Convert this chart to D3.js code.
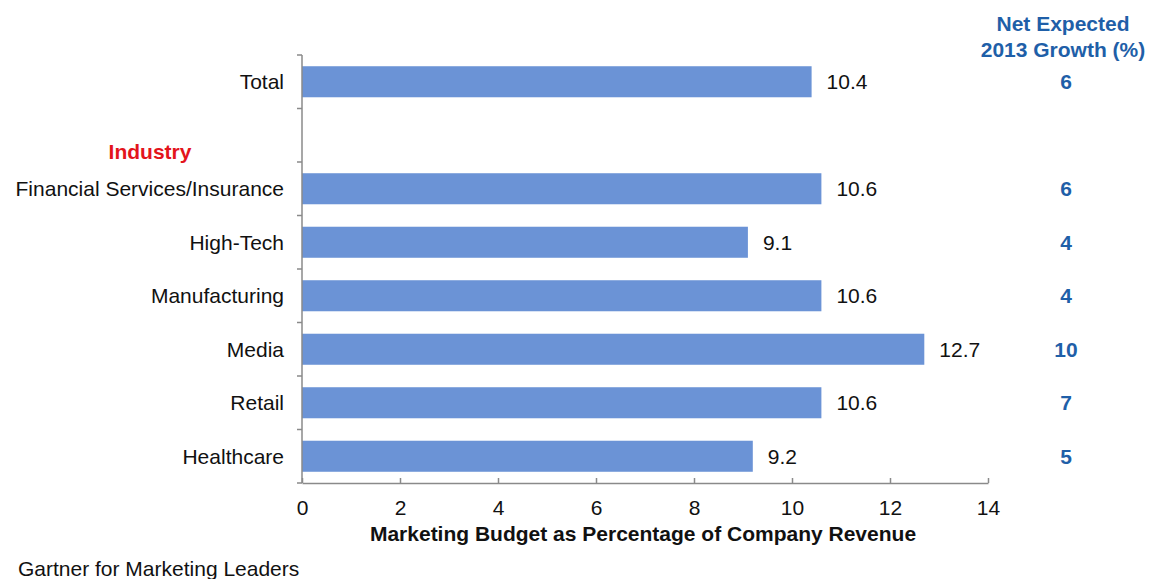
<!DOCTYPE html>
<meta charset="utf-8">
<style>
  body { margin: 0; background: #fff; }
  text { font-family: "Liberation Sans", Arial, sans-serif; }
</style>
<svg width="1155" height="579"></svg>
<script src="https://cdn.jsdelivr.net/npm/d3@7"></script>
<script>
  // data
  var categories = ["Total", "", "Financial Services/Insurance", "High-Tech", "Manufacturing", "Media", "Retail", "Healthcare"];
  var budget = [10.4, null, 10.6, 9.1, 10.6, 12.7, 10.6, 9.2];
  var growth = [6, null, 6, 4, 4, 10, 7, 5];
  var xTicks = [0, 2, 4, 6, 8, 10, 12, 14];

  var rows = categories.map(function(c, i) {
    return {key: "r" + i, name: c, value: budget[i], growth: growth[i]};
  });

  var svg = d3.select("svg"),
      margin = {top: 55, left: 302, right: 167, bottom: 96},
      width = +svg.attr("width") - margin.left - margin.right,
      height = +svg.attr("height") - margin.top - margin.bottom,
      g = svg.append("g").attr("transform", "translate(" + margin.left + "," + margin.top + ")");

  var x = d3.scaleLinear().domain([0, 14]).range([0, width]);
  var y = d3.scaleBand().domain(rows.map(function(d) { return d.key; }))
      .range([0, height]).paddingInner(0.42).paddingOuter(0.21);

  var axisColor = "#8a8a8a";
  var fs = "21px";

  // bars
  g.selectAll(".bar").data(rows.filter(function(d) { return d.value != null; }))
    .enter().append("rect")
    .attr("x", 0)
    .attr("y", function(d) { return y(d.key); })
    .attr("width", function(d) { return x(d.value); })
    .attr("height", y.bandwidth())
    .style("fill", "#6b93d6");

  // value labels
  g.selectAll(".val").data(rows.filter(function(d) { return d.value != null; }))
    .enter().append("text")
    .attr("x", function(d) { return x(d.value) + 15; })
    .attr("y", function(d) { return y(d.key) + y.bandwidth() / 2; })
    .attr("dy", "0.35em")
    .style("font-size", fs)
    .style("fill", "#111")
    .text(function(d) { return d.value.toFixed(1); });

  // y axis: line with ticks at band boundaries
  var step = y.step();
  g.append("line").attr("x1", 0).attr("x2", 0).attr("y1", 0).attr("y2", height)
    .style("stroke", axisColor).style("stroke-width", 1.5);
  g.selectAll(".ytick").data(d3.range(rows.length + 1))
    .enter().append("line")
    .attr("x1", -5).attr("x2", 0)
    .attr("y1", function(i) { return i * step; })
    .attr("y2", function(i) { return i * step; })
    .style("stroke", axisColor).style("stroke-width", 1.5);

  // category labels
  g.selectAll(".cat").data(rows.filter(function(d) { return d.name; }))
    .enter().append("text")
    .attr("x", -18)
    .attr("y", function(d) { return y(d.key) + y.bandwidth() / 2; })
    .attr("dy", "0.35em")
    .attr("text-anchor", "end")
    .style("font-size", fs)
    .style("fill", "#111")
    .text(function(d) { return d.name; });

  g.append("text")
    .attr("x", -152).attr("y", y("r1") + y.bandwidth() / 2 + 16)
    .attr("dy", "0.35em")
    .attr("text-anchor", "middle")
    .style("font-size", fs).style("font-weight", "bold")
    .style("fill", "#e3141c")
    .text("Industry");

  // x axis
  var xAxis = g.append("g")
    .attr("transform", "translate(0," + height + ")")
    .call(d3.axisBottom(x).tickValues(xTicks).tickSizeInner(-5).tickSizeOuter(0).tickPadding(17));
  xAxis.select(".domain").style("stroke", axisColor).style("stroke-width", 1.5);
  xAxis.selectAll(".tick line").style("stroke", axisColor).style("stroke-width", 1.5);
  xAxis.selectAll(".tick text").style("font-size", fs).style("fill", "#111")
    .style("font-family", "Liberation Sans, Arial, sans-serif");

  g.append("text")
    .attr("x", width / 2 - 2).attr("y", height + 58)
    .attr("text-anchor", "middle")
    .style("font-size", fs).style("font-weight", "bold").style("fill", "#111")
    .text("Marketing Budget as Percentage of Company Revenue");

  // growth column
  var gx = 1066;
  var blue = "#1f5fa8";
  svg.append("text").attr("x", gx - 3).attr("y", 31)
    .attr("text-anchor", "middle")
    .style("font-size", fs).style("font-weight", "bold").style("fill", blue)
    .text("Net Expected");
  svg.append("text").attr("x", gx - 3).attr("y", 57)
    .attr("text-anchor", "middle")
    .style("font-size", fs).style("font-weight", "bold").style("fill", blue)
    .text("2013 Growth (%)");
  g.selectAll(".growth").data(rows.filter(function(d) { return d.growth != null; }))
    .enter().append("text")
    .attr("x", gx - margin.left)
    .attr("y", function(d) { return y(d.key) + y.bandwidth() / 2; })
    .attr("dy", "0.35em")
    .attr("text-anchor", "middle")
    .style("font-size", fs).style("font-weight", "bold").style("fill", blue)
    .text(function(d) { return d.growth; });

  // source
  svg.append("text").attr("x", 18).attr("y", 576)
    .style("font-size", fs).style("fill", "#111")
    .text("Gartner for Marketing Leaders");
</script>
